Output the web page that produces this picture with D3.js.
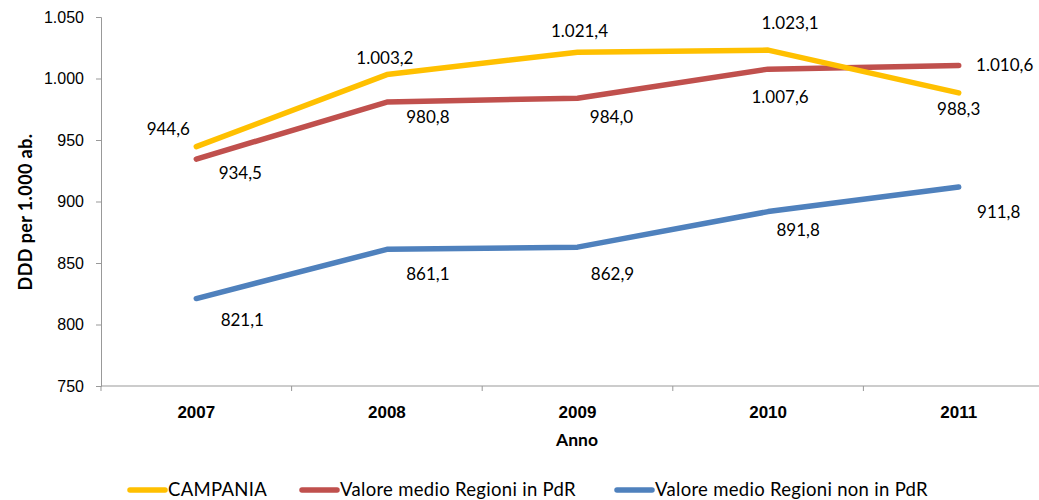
<!DOCTYPE html>
<html>
<head>
<meta charset="utf-8">
<script src="https://cdn.jsdelivr.net/npm/d3@7"></script>
<style>
  body { margin: 0; background: #fff; }
  svg { display: block; font-family: Lato, "Open Sans", sans-serif; }
</style>
</head>
<body>
<div id="chart"></div>
<script>
const years = ['2007', '2008', '2009', '2010', '2011'];
const campania = [944.6, 1003.2, 1021.4, 1023.1, 988.3];
const inPdR = [934.5, 980.8, 984.0, 1007.6, 1010.6];
const nonInPdR = [821.1, 861.1, 862.9, 891.8, 911.8];
const seriesNames = ['CAMPANIA', 'Valore medio Regioni in PdR', 'Valore medio Regioni non in PdR'];
const yTicks = [750, 800, 850, 900, 950, 1000, 1050];

const width = 1039;
const height = 500;
const colors = ['#FFC000', '#C0504D', '#4F81BD'];

// label placement per series / point (dx, dy from point)
const labelOffsets = [
  [[-28, -18], [-2, -17], [2, -21], [22, -27], [0, 16]],
  [[44, 14], [41, 15], [34, 19], [12, 28], [46, 0]],
  [[46, 22], [41, 25], [35, 27], [30, 18], [40, 25]]
];

const fmt = v => {
  const s = v.toFixed(1).replace('.', ',');
  const [i, d] = s.split(',');
  return i.replace(/\B(?=(\d{3})+(?!\d))/g, '.') + ',' + d;
};

const svg = d3.select('#chart')
  .append('svg')
  .attr('width', width)
  .attr('height', height);

const x = d3.scaleBand()
  .domain(years)
  .range([101, 1054]);

const y = d3.scaleLinear()
  .domain([750, 1050])
  .range([386, 17]);

// y axis
const yAxis = svg.append('g')
  .attr('transform', 'translate(101,0)')
  .call(d3.axisLeft(y).tickValues(yTicks).tickSize(5).tickPadding(12)
    .tickFormat(d => d3.format(',')(d).replace(/,/g, '.')));
yAxis.selectAll('path, line').attr('stroke', '#999');
yAxis.selectAll('text').attr('font-size', 16).attr('fill', '#000');

// x axis
const xAxis = svg.append('g')
  .attr('transform', 'translate(0,386)')
  .call(d3.axisBottom(x).tickSize(0).tickPadding(20));
xAxis.select('path').attr('stroke', '#999').attr('d', 'M101,0H1054');
xAxis.selectAll('text').attr('font-size', 17).attr('font-weight', 'bold').attr('fill', '#000');
xAxis.selectAll('.sep')
  .data(years.concat(['end']))
  .enter()
  .append('line')
  .attr('class', 'sep')
  .attr('x1', (d, i) => 101 + i * x.step())
  .attr('x2', (d, i) => 101 + i * x.step())
  .attr('y1', 0)
  .attr('y2', 5)
  .attr('stroke', '#999');

svg.append('text')
  .attr('transform', 'translate(26,212) rotate(-90)')
  .attr('text-anchor', 'middle')
  .attr('dy', '0.35em')
  .attr('font-size', 18)
  .attr('font-weight', 'bold')
  .attr('letter-spacing', 0.4)
  .text('DDD per 1.000 ab.');

svg.append('text')
  .attr('x', 577)
  .attr('y', 446)
  .attr('text-anchor', 'middle')
  .attr('font-size', 17.5)
  .attr('font-weight', 'bold')
  .text('Anno');

const series = [campania, inPdR, nonInPdR];
const line = d3.line()
  .x((d, i) => x(years[i]) + x.bandwidth() / 2)
  .y(d => y(d));

// draw blue first, then red, then yellow on top
[2, 1, 0].forEach(s => {
  svg.append('path')
    .datum(series[s])
    .attr('fill', 'none')
    .attr('stroke', colors[s])
    .attr('stroke-width', 5.5)
    .attr('stroke-linecap', 'round')
    .attr('stroke-linejoin', 'round')
    .attr('d', line);
});

series.forEach((vals, s) => {
  svg.append('g')
    .selectAll('text')
    .data(vals)
    .enter()
    .append('text')
    .attr('x', (d, i) => x(years[i]) + x.bandwidth() / 2 + labelOffsets[s][i][0])
    .attr('y', (d, i) => y(d) + labelOffsets[s][i][1])
    .attr('dy', '0.35em')
    .attr('text-anchor', 'middle')
    .attr('font-size', 17)
    .attr('fill', '#000')
    .text(d => fmt(d));
});

// legend
const legendX = [130, 302, 617];
const legend = svg.append('g');
seriesNames.forEach((name, i) => {
  legend.append('line')
    .attr('x1', legendX[i])
    .attr('x2', legendX[i] + 35)
    .attr('y1', 490)
    .attr('y2', 490)
    .attr('stroke', colors[i])
    .attr('stroke-width', 5.5)
    .attr('stroke-linecap', 'round');
  legend.append('text')
    .attr('x', legendX[i] + 38)
    .attr('y', 490)
    .attr('dy', '0.35em')
    .attr('font-size', 18.5)
    .attr('letter-spacing', 0.3)
    .text(name);
});
</script>
</body>
</html>
